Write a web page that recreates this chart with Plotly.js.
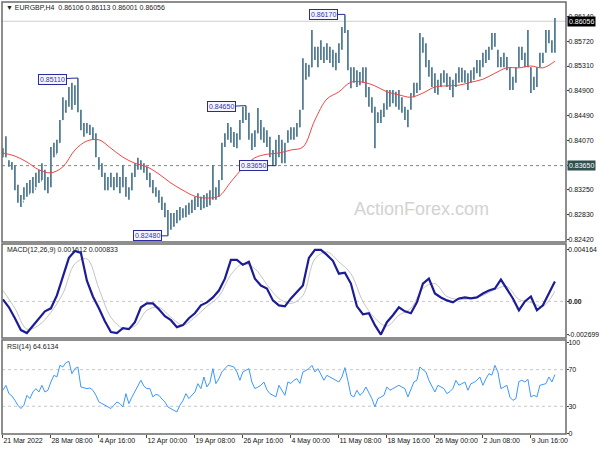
<!DOCTYPE html>
<html><head><meta charset="utf-8">
<script src="https://cdn.plot.ly/plotly-3.0.1.min.js"></script>
<style>html,body{margin:0;padding:0;background:#fff}#chart{width:600px;height:450px}</style>
</head><body><div id="chart"></div>
<script>
// Each bar = two H4 candles (EURGBP, 21 Mar 2022 – 10 Jun 2022)
const tickLabels = ["21 Mar 2022","28 Mar 08:00","4 Apr 16:00","12 Apr 00:00","19 Apr 08:00","26 Apr 16:00","4 May 00:00","11 May 08:00","18 May 16:00","26 May 00:00","2 Jun 08:00","9 Jun 16:00"];

const openP = [0.8388,0.8384,0.8372,0.8366,0.8362,0.8330,0.8310,0.8305,0.8322,0.8318,
0.8335,0.8326,0.8345,0.8340,0.8348,0.8330,0.8335,0.8390,0.8385,0.8404,
0.8442,0.8470,0.8465,0.8490,0.8468,0.8495,0.8455,0.8430,0.8420,0.8430,
0.8422,0.8415,0.8378,0.8365,0.8350,0.8330,0.8340,0.8335,0.8342,0.8333,
0.8340,0.8335,0.8318,0.8325,0.8350,0.8365,0.8372,0.8362,0.8360,0.8345,
0.8335,0.8325,0.8318,0.8308,0.8295,0.8285,0.8262,0.8270,0.8280,0.8275,
0.8288,0.8282,0.8295,0.8290,0.8302,0.8298,0.8312,0.8300,0.8310,0.8305,
0.8315,0.8320,0.8320,0.8342,0.8398,0.8410,0.8428,0.8412,0.8405,0.8415,
0.8438,0.8455,0.8445,0.8412,0.8398,0.8420,0.8430,0.8415,0.8420,0.8400,
0.8385,0.8372,0.8400,0.8390,0.8375,0.8405,0.8418,0.8412,0.8425,0.8430,
0.8460,0.8530,0.8515,0.8530,0.8560,0.8550,0.8545,0.8560,0.8550,0.8560,
0.8545,0.8540,0.8540,0.8560,0.8590,0.8588,0.8525,0.8505,0.8520,0.8502,
0.8515,0.8510,0.8485,0.8470,0.8460,0.8440,0.8450,0.8448,0.8465,0.8485,
0.8475,0.8486,0.8470,0.8475,0.8458,0.8448,0.8460,0.8482,0.8495,0.8492,
0.8570,0.8560,0.8538,0.8520,0.8505,0.8495,0.8500,0.8515,0.8508,0.8500,
0.8495,0.8500,0.8515,0.8520,0.8510,0.8515,0.8505,0.8520,0.8525,0.8535,
0.8535,0.8545,0.8550,0.8560,0.8580,0.8555,0.8540,0.8535,0.8545,0.8528,
0.8495,0.8505,0.8530,0.8555,0.8548,0.8540,0.8528,0.8495,0.8505,0.8530,
0.8545,0.8555,0.8585,0.8572,0.8560];

const highP = [0.8394,0.8414,0.8374,0.8371,0.8366,0.8333,0.8316,0.8329,0.8336,0.8341,
0.8346,0.8353,0.8358,0.8369,0.8358,0.8346,0.8396,0.8403,0.8408,0.8441,
0.8479,0.8474,0.8496,0.8503,0.8499,0.8511,0.8458,0.8436,0.8436,0.8433,
0.8429,0.8419,0.8379,0.8369,0.8353,0.8346,0.8353,0.8346,0.8353,0.8346,
0.8366,0.8346,0.8329,0.8353,0.8369,0.8378,0.8374,0.8369,0.8363,0.8353,
0.8341,0.8329,0.8324,0.8313,0.8303,0.8291,0.8286,0.8286,0.8291,0.8296,
0.8294,0.8299,0.8303,0.8308,0.8313,0.8319,0.8313,0.8316,0.8319,0.8324,
0.8366,0.8329,0.8341,0.8403,0.8419,0.8436,0.8429,0.8421,0.8419,0.8441,
0.8463,0.8465,0.8453,0.8419,0.8424,0.8461,0.8441,0.8429,0.8424,0.8413,
0.8391,0.8408,0.8416,0.8408,0.8403,0.8424,0.8429,0.8429,0.8436,0.8458,
0.8544,0.8536,0.8533,0.8591,0.8563,0.8563,0.8574,0.8563,0.8569,0.8563,
0.8558,0.8553,0.8569,0.8596,0.8617,0.8591,0.8529,0.8529,0.8524,0.8521,
0.8529,0.8529,0.8496,0.8479,0.8463,0.8454,0.8458,0.8469,0.8491,0.8491,
0.8491,0.8488,0.8491,0.8479,0.8463,0.8458,0.8486,0.8503,0.8503,0.8586,
0.8579,0.8569,0.8541,0.8529,0.8519,0.8508,0.8519,0.8524,0.8519,0.8513,
0.8508,0.8519,0.8529,0.8528,0.8524,0.8519,0.8524,0.8529,0.8541,0.8541,
0.8553,0.8558,0.8563,0.8586,0.8586,0.8558,0.8546,0.8553,0.8546,0.8529,
0.8513,0.8529,0.8563,0.8563,0.8553,0.8591,0.8529,0.8513,0.8529,0.8553,
0.8553,0.8591,0.8591,0.8574,0.8611];

const lowP = [0.8379,0.8379,0.8363,0.8358,0.8324,0.8303,0.8296,0.8308,0.8313,0.8319,
0.8319,0.8329,0.8336,0.8341,0.8324,0.8319,0.8329,0.8379,0.8386,0.8403,
0.8441,0.8453,0.8463,0.8458,0.8466,0.8454,0.8424,0.8413,0.8419,0.8416,
0.8408,0.8379,0.8358,0.8346,0.8324,0.8324,0.8329,0.8324,0.8329,0.8319,
0.8329,0.8313,0.8308,0.8324,0.8346,0.8358,0.8358,0.8353,0.8341,0.8329,
0.8319,0.8313,0.8303,0.8291,0.8279,0.8248,0.8258,0.8263,0.8269,0.8274,
0.8278,0.8279,0.8283,0.8286,0.8291,0.8296,0.8291,0.8294,0.8296,0.8299,
0.8308,0.8308,0.8313,0.8341,0.8396,0.8408,0.8403,0.8396,0.8394,0.8408,
0.8436,0.8441,0.8408,0.8391,0.8396,0.8419,0.8408,0.8403,0.8396,0.8379,
0.8366,0.8365,0.8379,0.8369,0.8369,0.8403,0.8408,0.8408,0.8413,0.8429,
0.8458,0.8508,0.8513,0.8529,0.8541,0.8529,0.8541,0.8536,0.8541,0.8536,
0.8529,0.8524,0.8536,0.8558,0.8586,0.8524,0.8494,0.8503,0.8496,0.8499,
0.8503,0.8479,0.8463,0.8453,0.8394,0.8436,0.8436,0.8446,0.8458,0.8463,
0.8469,0.8463,0.8458,0.8453,0.8441,0.8429,0.8458,0.8479,0.8486,0.8491,
0.8553,0.8529,0.8513,0.8496,0.8486,0.8483,0.8496,0.8503,0.8496,0.8491,
0.8479,0.8496,0.8503,0.8504,0.8503,0.8491,0.8503,0.8508,0.8519,0.8513,
0.8529,0.8536,0.8541,0.8558,0.8563,0.8529,0.8529,0.8529,0.8524,0.8491,
0.8491,0.8503,0.8529,0.8541,0.8529,0.8529,0.8486,0.8491,0.8496,0.8529,
0.8536,0.8553,0.8569,0.8553,0.8553];

const closeP = [0.8384,0.8380,0.8366,0.8362,0.8330,0.8310,0.8305,0.8322,0.8318,0.8335,
0.8326,0.8345,0.8340,0.8348,0.8330,0.8335,0.8390,0.8385,0.8400,0.8436,
0.8470,0.8458,0.8490,0.8468,0.8495,0.8456,0.8430,0.8420,0.8430,0.8422,
0.8415,0.8382,0.8365,0.8350,0.8330,0.8340,0.8335,0.8342,0.8333,0.8340,
0.8335,0.8318,0.8325,0.8350,0.8365,0.8372,0.8362,0.8360,0.8345,0.8335,
0.8325,0.8318,0.8308,0.8295,0.8285,0.8262,0.8270,0.8280,0.8275,0.8288,
0.8282,0.8295,0.8290,0.8302,0.8298,0.8312,0.8300,0.8310,0.8305,0.8315,
0.8320,0.8315,0.8335,0.8398,0.8410,0.8428,0.8412,0.8405,0.8415,0.8436,
0.8455,0.8445,0.8412,0.8398,0.8420,0.8430,0.8415,0.8420,0.8400,0.8385,
0.8372,0.8400,0.8390,0.8375,0.8398,0.8418,0.8412,0.8425,0.8422,0.8455,
0.8530,0.8515,0.8525,0.8565,0.8550,0.8545,0.8565,0.8550,0.8560,0.8545,
0.8540,0.8530,0.8560,0.8588,0.8595,0.8530,0.8505,0.8520,0.8500,0.8515,
0.8510,0.8485,0.8470,0.8460,0.8440,0.8450,0.8440,0.8465,0.8485,0.8475,
0.8488,0.8470,0.8480,0.8460,0.8448,0.8450,0.8480,0.8495,0.8490,0.8570,
0.8560,0.8540,0.8520,0.8505,0.8495,0.8500,0.8515,0.8508,0.8500,0.8495,
0.8500,0.8515,0.8520,0.8510,0.8518,0.8500,0.8520,0.8525,0.8535,0.8525,
0.8545,0.8550,0.8558,0.8580,0.8565,0.8540,0.8535,0.8548,0.8530,0.8495,
0.8505,0.8525,0.8555,0.8548,0.8540,0.8530,0.8495,0.8505,0.8525,0.8545,
0.8550,0.8585,0.8575,0.8560,0.8606];

// moving average, sampled every 4th bar
const maVals = [0.8386,0.8381,0.8371,0.8358,0.8353,0.8363,0.8391,0.8406,0.8408,0.8394,
0.8379,0.8369,0.8363,0.8351,0.8336,0.8324,0.8314,0.8311,0.8314,0.8338,
0.8361,0.8378,0.8384,0.8386,0.8391,0.8396,0.8441,0.8476,0.8488,0.8504,
0.8504,0.8498,0.8488,0.8483,0.8479,0.8486,0.8496,0.8498,0.8499,0.8504,
0.8509,0.8519,0.8528,0.8528,0.8531,0.8528,0.8539];

// MACD main line, sampled every 2nd bar
const macdVals = [0.00016,-0.00048,-0.00136,-0.00232,-0.00256,-0.00200,-0.00144,-0.00080,-0.00056,0.00048,
0.00200,0.00352,0.00408,0.00392,0.00168,0.00040,-0.00056,-0.00160,-0.00248,-0.00256,
-0.00216,-0.00224,-0.00168,-0.00048,-0.00016,-0.00016,-0.00064,-0.00120,-0.00152,-0.00208,
-0.00192,-0.00136,-0.00096,-0.00032,-0.00008,0.00032,0.00088,0.00184,0.00336,0.00336,
0.00296,0.00320,0.00184,0.00128,0.00104,0.00008,-0.00032,-0.00040,0.00024,0.00072,
0.00128,0.00352,0.00416,0.00416,0.00376,0.00328,0.00224,0.00232,0.00144,-0.00040,
-0.00104,-0.00096,-0.00192,-0.00268,-0.00168,-0.00112,-0.00048,-0.00080,-0.00096,-0.00008,
0.00144,0.00184,0.00064,0.00032,0.00008,-0.00008,0.00024,0.00032,0.00024,0.00032,
0.00064,0.00088,0.00104,0.00176,0.00104,0.00024,-0.00072,0.00000,0.00040,-0.00072,
-0.00032,0.00064,0.00161];

// MACD signal line, sampled every 4th bar
const signalVals = [0.00088,-0.00056,-0.00224,-0.00192,-0.00088,0.00064,0.00304,0.00344,0.00104,-0.00128,
-0.00216,-0.00200,-0.00072,-0.00048,-0.00128,-0.00192,-0.00128,-0.00040,0.00040,0.00216,
0.00304,0.00264,0.00136,0.00024,-0.00016,0.00048,0.00344,0.00400,0.00320,0.00224,
0.00000,-0.00136,-0.00200,-0.00112,-0.00056,0.00104,0.00144,0.00040,0.00016,0.00024,
0.00048,0.00096,0.00120,0.00016,-0.00008,-0.00040,0.00083];

// RSI(14), one per bar
const rsiVals = [47.5,52.9,43.8,41.3,36.5,31,27.5,31.1,42,38.4,
45.6,49.3,45.6,52.9,45.6,47.5,56.5,63.8,62,74.7,
73,77.6,79.1,65.6,71.1,72.9,51.1,50.5,49.3,50,
47.5,42,34.7,33,31.1,29,27.5,31,34.7,32.9,
29.3,43.8,32.9,40,45.6,52,58.4,52,49.3,49.3,
40.2,43,42,38,34.7,29.3,27,25.5,23.8,31.1,
36,43.8,38.4,42,45.6,54.7,49.3,62,51.1,56,
71.1,54.7,60,67.5,71.1,74.7,74,72.9,67.5,58.4,
67.5,69,71.1,56.5,49.3,51,52.9,56.5,48,43.8,
42,40.2,52.9,47,42,56.5,55,58.4,60.2,55,
67.5,69,71.1,74.7,67.5,71.1,65,58.4,63.8,62,
60,58.4,56.5,62,72.2,58,42,40.2,47.5,42,
45,51.1,44,38.4,29.3,38.4,40,42,51.1,47.5,
49.3,51,52.9,51,49.3,40.2,48,56.5,58.4,72.9,
70,67.5,58.4,52,45.6,52.9,51,49.3,43.8,46,
49.3,58.4,52.9,55,56.5,47.5,54.7,56,58.4,62,
52.9,60,65.6,64,74.7,67.5,49.3,51,52.9,40,
36.5,38.4,57,58.4,56.5,59.5,40.2,42,40.2,52.9,
53.5,54.7,62,56.5,64.6];

const priceTicks = [0.8614,0.8572,0.8531,0.8490,0.8449,0.8407,0.8365,0.8325,0.8283,0.8242];
const priceTickText = ["0.86140","0.85720","0.85310","0.84900","0.84490","0.84070","","0.83250","0.82830","0.82420"];
const lastPrice = 0.86056;
const levelPrice = 0.8365;

const barIdx = closeP.map((_, i) => i);
const maIdx = maVals.map((_, i) => i * 4);
const macdIdx = macdVals.map((_, i) => i * 2);
const sigIdx = signalVals.map((_, i) => i * 4);
const tickIdx = tickLabels.map((_, i) => i * 16);

const FONT = "Liberation Sans, Arial, sans-serif";
const BAR = "#557d97";

const traces = [
  {type:"ohlc", x:barIdx, open:openP, high:highP, low:lowP, close:closeP,
   xaxis:"x", yaxis:"y", tickwidth:0.25, hoverinfo:"skip", showlegend:false,
   increasing:{line:{color:BAR, width:1.8}}, decreasing:{line:{color:BAR, width:1.8}}},
  {type:"scatter", mode:"lines", x:maIdx, y:maVals, xaxis:"x", yaxis:"y",
   line:{color:"#f04545", width:1, shape:"spline"}, hoverinfo:"skip"},
  {type:"scatter", mode:"lines", x:sigIdx, y:signalVals, xaxis:"x", yaxis:"y2",
   line:{color:"#c4c4c4", width:1, shape:"spline"}, hoverinfo:"skip"},
  {type:"scatter", mode:"lines", x:macdIdx, y:macdVals, xaxis:"x", yaxis:"y2",
   line:{color:"#1c1c96", width:2.2}, hoverinfo:"skip"},
  {type:"scatter", mode:"lines", x:barIdx, y:rsiVals, xaxis:"x", yaxis:"y3",
   line:{color:"#3a98ff", width:1}, hoverinfo:"skip"}
];

function frame(ax){
  return {type:"rect", xref:"paper", yref:ax+" domain", x0:0, x1:1, y0:0, y1:1,
          line:{color:"#6a6a6a", width:1.5}, fillcolor:"rgba(0,0,0,0)", layer:"above"};
}
function level(ax, v, color, dash){
  return {type:"line", xref:"paper", yref:ax, x0:0, x1:1, y0:v, y1:v,
          line:{color:color, width:1, dash:dash}, layer:"below"};
}
function boxLabel(xi, yv, txt, ax, ay){
  return {x:xi, y:yv, xref:"x", yref:"y", text:txt, showarrow:true, arrowhead:0,
          arrowwidth:1, arrowcolor:"#2b2b9c", ax:ax, ay:ay, standoff:0,
          font:{family:FONT, size:7, color:"#3535b0"}, bgcolor:"#f6f6ff",
          bordercolor:"#2b2b9c", borderwidth:1, borderpad:1};
}

const yCommon = {side:"right", anchor:"x", showgrid:false, zeroline:false, showline:false,
  ticks:"outside", ticklen:2, tickcolor:"#444", ticklabelstandoff:-2,
  tickfont:{family:FONT, size:7, color:"#111"}, fixedrange:true};

const layout = {
  width:600, height:450,
  margin:{l:2, r:34, t:2, b:16},
  paper_bgcolor:"#fff", plot_bgcolor:"#fff", showlegend:false,
  xaxis:{range:[-0.3, 187.7], anchor:"y3", showgrid:false, zeroline:false, showline:false,
    tickvals:tickIdx, ticktext:tickLabels, ticks:"outside", ticklen:3, tickcolor:"#444",
    ticklabelposition:"outside right", tickangle:0, automargin:false,
    tickfont:{family:FONT, size:7, color:"#111"}, rangeslider:{visible:false}, fixedrange:true},
  yaxis:Object.assign({}, yCommon, {domain:[0.4444, 1], range:[0.82377, 0.86377],
    tickvals:priceTicks, ticktext:priceTickText}),
  yaxis2:Object.assign({}, yCommon, {domain:[0.2222, 0.4398], range:[-0.00296, 0.00464],
    tickfont:{family:FONT, size:6.8, color:"#111"},
    tickvals:[0.004164, 0, -0.002699], ticktext:["0.004164","<b>0.00</b>","-0.002699"]}),
  yaxis3:Object.assign({}, yCommon, {domain:[0, 0.2176], range:[-0.3, 102.4],
    tickvals:[0, 30, 70, 100], ticktext:["0","30","70","100"]}),
  shapes:[
    level("y", lastPrice, "#cfcfcf", "solid"),
    level("y", levelPrice, "#7d8a7d", "dot"),
    level("y2", 0, "#c8c8c8", "dot"),
    level("y3", 30, "#c8c8c8", "dot"),
    level("y3", 70, "#c8c8c8", "dot"),
    frame("y"), frame("y2"), frame("y3")
  ],
  annotations:[
    {xref:"paper", yref:"paper", x:0.0035, y:0.9884, xanchor:"left", yanchor:"middle", showarrow:false,
     text:"\u25BC EURGBP,H4  0.86106 0.86113 0.86001 0.86056", font:{family:FONT, size:7, color:"#222"}},
    {xref:"paper", yref:"paper", x:0.0053, y:0.4259, xanchor:"left", yanchor:"middle", showarrow:false,
     text:"MACD(12,26,9) 0.001612 0.000833", font:{family:FONT, size:7, color:"#222"}},
    {xref:"paper", yref:"paper", x:0.0053, y:0.2014, xanchor:"left", yanchor:"middle", showarrow:false,
     text:"RSI(14) 64.6134", font:{family:FONT, size:7, color:"#222"}},
    {xref:"paper", yref:"paper", x:0.743, y:0.5208, xanchor:"center", yanchor:"middle", showarrow:false,
     text:"ActionForex.com", font:{family:FONT, size:18, color:"#d2d2d2"}},
    boxLabel(25, 0.8511, "0.85110", -25, 1),
    boxLabel(81, 0.8465, "0.84650", -24, 1),
    boxLabel(55, 0.8248, "0.82480", -20, 0),
    boxLabel(91, 0.8365, "0.83650", -22, 0),
    boxLabel(114, 0.8617, "0.86170", -21, 0),
    {xref:"paper", yref:"y", x:1, y:lastPrice, xanchor:"left", yanchor:"middle", xshift:1, showarrow:false,
     text:"0.86056", bgcolor:"#000", borderpad:1, font:{family:FONT, size:7, color:"#fff"}},
    {xref:"paper", yref:"y", x:1, y:levelPrice, xanchor:"left", yanchor:"middle", xshift:1, showarrow:false,
     text:"0.83650", bgcolor:"#2f4f4f", borderpad:1, font:{family:FONT, size:7, color:"#fff"}}
  ]
};

Plotly.newPlot("chart", traces, layout, {staticPlot:true, displayModeBar:false});
</script>
</body></html>
